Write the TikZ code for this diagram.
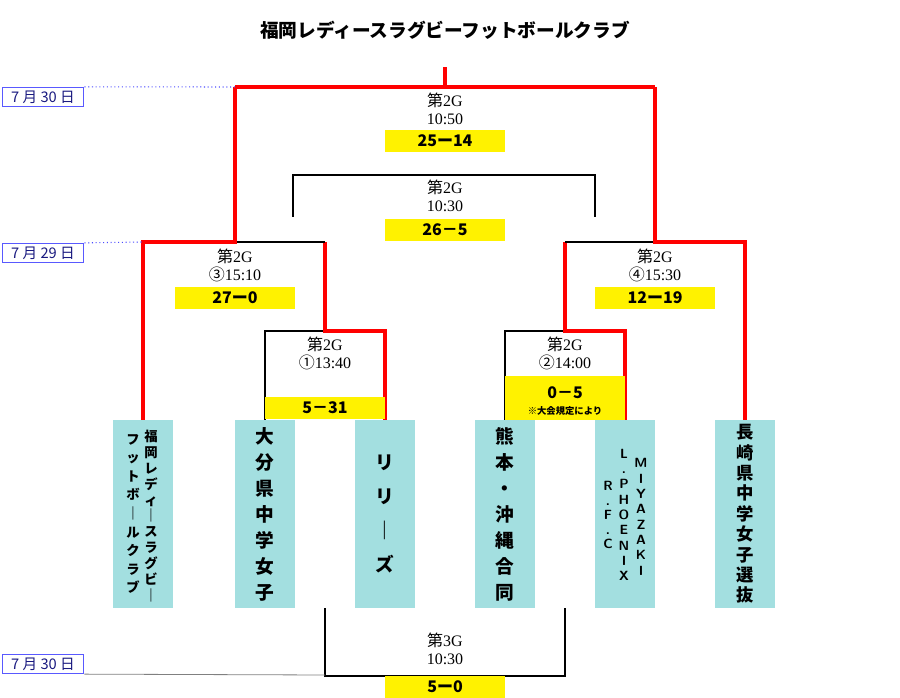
\documentclass[tikz,border=0pt]{standalone}
\usepackage{fontspec}
\setmainfont{Liberation Serif}
\newfontfamily\cjk{Noto Sans CJK JP}
\usetikzlibrary{positioning}
\definecolor{teamcyan}{HTML}{A3DFE0}
\definecolor{datenavy}{HTML}{1A1A80}
\tikzset{team/.style={fill=teamcyan,minimum width=45pt,minimum height=141pt,
        inner sep=0pt,align=center,font=\cjk\fontsize{14}{19.5}\selectfont\bfseries},
        column/.style={inner sep=0pt,align=center},
        win/.style={red,line width=2.6pt},
        lose/.style={black,line width=2pt},
        score/.style={fill=yellow,minimum width=90pt,minimum height=17pt,inner sep=0pt,
        font=\cjk\bfseries\fontsize{12}{13}\selectfont},
        game/.style={align=center,font=\fontsize{12}{13.5}\selectfont},
        day/.style={draw=blue!65!white,line width=1.2pt,inner sep=1pt,minimum width=61pt,
        minimum height=14pt,text=datenavy,font=\cjk\fontsize{11}{12}\selectfont}}
\newcommand{\gamelabel}[2]{{\cjk 第}2G\\{\cjk #1}#2}
\begin{document}
\begin{tikzpicture}[x=0.75pt,y=-0.75pt]
  \useasboundingbox (0,0) rectangle (900,698);
  %% title
  \node[font=\cjk\bfseries\fontsize{14}{15}\selectfont] (title) at (445,30)
       {福岡レディースラグビーフットボールクラブ};
  %% teams
  \node[team] (t1) at (143,514) {};
  \node[column,font=\cjk\bfseries\fontsize{10}{11.9}\selectfont] (t1a) at (151,516)
       {福\\岡\\レ\\デ\\ィ\\｜\\ス\\ラ\\グ\\ビ\\｜};
  \node[column,font=\cjk\bfseries\fontsize{10}{13.9}\selectfont] (t1b) at (133,514)
       {フ\\ッ\\ト\\ボ\\｜\\ル\\ク\\ラ\\ブ};
  \node[team] (t2) at (265,514) {大\\分\\県\\中\\学\\女\\子};
  \node[team] (t3) at (385,514) {リ\\[6pt]リ\\[6pt]｜\\[6pt]ズ};
  \node[team] (t4) at (505,514) {熊\\本\\・\\沖\\縄\\合\\同};
  \node[team] (t5) at (625,514) {};
  \node[column,font=\sffamily\bfseries\fontsize{10}{10.9}\selectfont] (t5a) at (608,515)
       {R\\.\\F\\.\\C};
  \node[column,font=\sffamily\bfseries\fontsize{10}{11.5}\selectfont] (t5b) at (624,515)
       {L\\.\\P\\H\\O\\E\\N\\I\\X};
  \node[column,font=\sffamily\bfseries\fontsize{10}{11.5}\selectfont] (t5c) at (641,517)
       {M\\I\\Y\\A\\Z\\A\\K\\I};
  \node[team,font=\cjk\fontsize{13}{15.3}\selectfont\bfseries] (t6) at (745,514)
       {長\\崎\\県\\中\\学\\女\\子\\選\\抜};
  %% junctions
  \coordinate (r1) at (325,331);
  \coordinate (r2) at (565,331);
  \coordinate (s1) at (235,242);
  \coordinate (s2) at (655,242);
  \coordinate (top) at (445,87);
  %% first round
  \draw[lose] (t2.north) -- (t2.north |- r1) -- (r1);
  \draw[win] (t3.north) -- (t3.north |- r1) -- (r1) -- (r1 |- s1);
  \draw[lose] (t4.north) -- (t4.north |- r2) -- (r2);
  \draw[win] (t5.north) -- (t5.north |- r2) -- (r2) -- (r2 |- s2);
  %% semifinals
  \draw[lose] (s1) -- (r1 |- s1);
  \draw[win] (t1.north) -- (t1.north |- s1) -- (s1) -- (s1 |- top);
  \draw[lose] (s2) -- (r2 |- s2);
  \draw[win] (t6.north) -- (t6.north |- s2) -- (s2) -- (s2 |- top);
  %% final
  \draw[win] (s1 |- top) -- (s2 |- top) (top) -- ++(0,-20);
  %% third place
  \draw[lose] (293,217) -- (293,175) -- (595,175) -- (595,217);
  %% fifth place
  \draw[lose] (t2.south -| r1) -- (325,676) -- (565,676) -- (t5.south -| r2);
  %% game labels
  \node[game] (g1) at (445,109) {\gamelabel{}{10:50}};
  \node[score] (sc1) at (445,141) {25ー14};
  \node[game] (g2) at (445,196) {\gamelabel{}{10:30}};
  \node[score] (sc2) at (445,230) {26－5};
  \node[game] (g3) at (235,265) {\gamelabel{③}{15:10}};
  \node[score] (sc3) at (235,298) {27ー0};
  \node[game] (g4) at (655,265) {\gamelabel{④}{15:30}};
  \node[score] (sc4) at (655,298) {12ー19};
  \node[game] (g5) at (325,353) {\gamelabel{①}{13:40}};
  \node[score] (sc5) at (325,408) {5－31};
  \node[game] (g6) at (565,353) {\gamelabel{②}{14:00}};
  \node[score,minimum height=33pt] (sc6) at (565,398) {};
  \node[font=\cjk\bfseries\fontsize{12}{13}\selectfont] at (565,393) {0－5};
  \node[font=\cjk\bfseries\fontsize{7}{8}\selectfont] at (565,411) {※大会規定により};
  \node[game] (g7) at (445,649) {{\cjk 第}3G\\10:30};
  \node[score] (sc7) at (445,687) {5ー0};
  %% dates
  \node[day] (d1) at (43,97) {7 月 30 日};
  \node[day] (d2) at (43,253) {7 月 29 日};
  \node[day] (d3) at (43,664) {7 月 30 日};
  \draw[blue!70!white,dotted,line width=0.8pt] (d1.north east) -- (s1 |- top);
  \draw[blue!70!white,dotted,line width=0.8pt] (d2.north east) -- (t1.north |- s1);
  \draw[gray,line width=0.6pt] (d3.south east) -- (325,675);
\end{tikzpicture}
\end{document}
